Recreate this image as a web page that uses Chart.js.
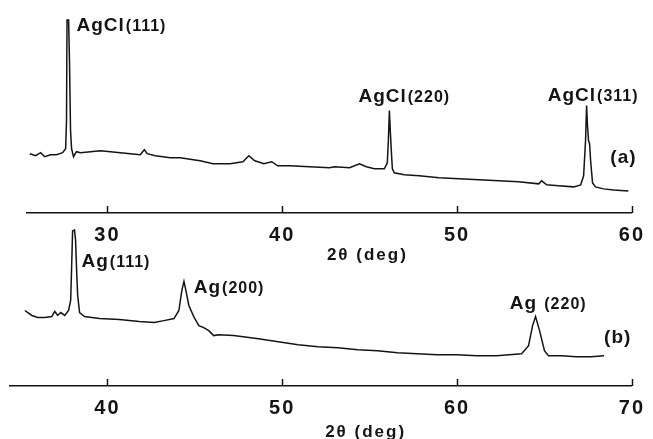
<!DOCTYPE html>
<html lang="en">
<head>
<meta charset="UTF-8">
<title>XRD patterns: AgCl and Ag</title>
<script src="https://cdn.jsdelivr.net/npm/chart.js"></script>
<style>
    html, body { margin: 0; padding: 0; background: #fff; }
    .wrap { position: relative; width: 653px; height: 439px; overflow: hidden; }
    .panel { position: absolute; left: 0; width: 653px; }
    #panelA { top: 0; height: 270px; }
    #panelB { top: 219px; height: 220px; }
</style>
</head>
<body>
<div class="wrap">
    <div class="panel" id="panelA"><canvas id="chartA"></canvas></div>
    <div class="panel" id="panelB"><canvas id="chartB"></canvas></div>
</div>
<script>
// (a) AgCl film: 2theta (deg) and intensity (arb. units, 0-100)
const twoThetaA = [25.56, 25.90, 26.18, 26.41, 26.75, 27.09, 27.44, 27.61, 27.66, 27.69, 27.78, 27.83, 27.89, 27.95,
    28.06, 28.23, 28.46, 29.03, 29.60, 30.17, 30.74, 31.31, 31.88, 32.11, 32.28, 32.74, 33.59, 34.16, 35.30,
    36.04, 37.01, 37.75, 38.09, 38.43, 38.95, 39.40, 39.74, 40.43, 41.57, 42.71, 42.99, 43.85, 44.42, 44.81,
    45.27, 45.84, 46.01, 46.07, 46.13, 46.18, 46.24, 46.30, 46.41, 46.98, 47.83, 48.97, 50.11, 51.25, 52.39,
    53.53, 54.67, 54.84, 55.13, 55.81, 56.67, 57.07, 57.24, 57.35, 57.41, 57.46, 57.52, 57.58, 57.64, 57.75,
    57.92, 58.38, 58.95, 59.80];
const intensityA = [29.5, 28.5, 30, 28, 29, 29, 30, 32, 46, 96, 96, 76, 41, 32,
    28, 30.5, 30, 30.5, 31, 30.5, 30, 29.5, 29, 31.5, 29.5, 28.5, 27.5, 27.5, 26,
    24.5, 24.5, 25.5, 28.5, 26, 24.5, 25.5, 23.5, 23.5, 23, 22.5, 23, 22.5, 24.5, 23,
    22, 22, 25, 36, 51, 41, 31, 22, 20, 19, 18.5, 17.5, 17, 16.5, 16,
    15.5, 14.5, 16, 14, 13.5, 13, 14, 18.5, 36, 53.5, 43.5, 36, 34.5, 26, 15,
    13, 12, 11.5, 11];

// (b) Ag film
const twoThetaB = [35.28, 35.45, 35.68, 36.02, 36.42, 36.82, 36.99, 37.16, 37.33, 37.56, 37.78, 37.90, 37.95, 38.01,
    38.12, 38.18, 38.24, 38.30, 38.41, 38.69, 39.55, 40.68, 41.82, 42.67, 43.24, 43.81, 44.09, 44.26, 44.38,
    44.49, 44.66, 44.94, 45.23, 45.51, 45.80, 46.08, 46.36, 47.22, 48.64, 49.77, 50.91, 52.05, 53.18, 54.32,
    55.45, 56.59, 57.73, 58.86, 60.00, 61.14, 62.27, 63.69, 64.09, 64.32, 64.49, 64.72, 65.00, 65.23, 65.97,
    66.82, 67.67, 68.41];
const intensityB = [46.9, 45.6, 43.8, 42.5, 42.5, 43.1, 46.3, 43.8, 45.6, 43.8, 46.9, 53.1, 71.9, 96.3,
    96.9, 90.6, 71.9, 56.3, 45.6, 43.1, 41.9, 41.3, 40, 39.4, 40.6, 41.9, 46.9, 59.4, 65,
    59.4, 50, 43.1, 37.5, 36.3, 34.4, 31.3, 31.9, 31.3, 29.4, 27.5, 25.6, 24.4, 23.8, 22.5,
    21.9, 20.6, 20, 19.4, 19.4, 18.8, 18.8, 20, 25, 37.5, 43.1, 34.4, 21.9, 18.8, 18.8,
    18.1, 18.1, 18.8];

// axis ticks
const ticksA = [30, 40, 50, 60];
const ticksB = [40, 50, 60, 70];

// peak labels: [main, index, 2theta, intensity] (left edge / middle of text)
const labelsA = [
    ['AgCl', '(111)', 28.23, 94],
    ['AgCl', '(220)', 44.36, 58.5],
    ['AgCl', '(311)', 55.19, 59],
    ['(a)', '', 58.77, 28.5]
];
const labelsB = [
    ['Ag', '(111)', 38.52, 78.1],
    ['Ag', '(200)', 44.94, 61.9],
    ['Ag ', '(220)', 63.01, 51.9],
    ['(b)', '', 68.41, 31.3]
];

const INK = '#141414';
const FONT = '"Liberation Sans", Arial, sans-serif';

const decor = {
    id: 'decor',
    beforeDraw(chart) {
        // wide-set lettering of the original figure
        chart.ctx.letterSpacing = '2px';
    },
    afterDraw(chart, args, opts) {
        const ctx = chart.ctx;
        const xs = chart.scales.x, ys = chart.scales.y;
        const bottom = chart.chartArea.bottom;
        ctx.save();
        // tick marks pointing up into the plot
        ctx.strokeStyle = INK;
        ctx.lineWidth = 1.5;
        opts.ticks.forEach(v => {
            const px = Math.round(xs.getPixelForValue(v)) + 0.5;
            ctx.beginPath();
            ctx.moveTo(px, bottom);
            ctx.lineTo(px, bottom - 7);
            ctx.stroke();
        });
        ctx.fillStyle = INK;
        ctx.textBaseline = 'alphabetic';
        ctx.textAlign = 'left';
        // peak labels
        opts.labels.forEach(l => {
            const px = xs.getPixelForValue(l[2]);
            const py = ys.getPixelForValue(l[3]) + 7;
            ctx.letterSpacing = '1px';
            ctx.font = 'bold 19px ' + FONT;
            ctx.fillText(l[0], px, py);
            if (l[1]) {
                const w = ctx.measureText(l[0]).width;
                ctx.font = 'bold 16px ' + FONT;
                ctx.fillText(l[1], px + w + 1, py);
            }
        });
        // axis title
        ctx.letterSpacing = '2px';
        ctx.textAlign = 'center';
        ctx.textBaseline = 'middle';
        ctx.font = 'bold 17px ' + FONT;
        ctx.fillText('2θ (deg)', xs.getPixelForValue(opts.titleAt), bottom + opts.titleGap);
        ctx.restore();
        ctx.letterSpacing = '0px';
    }
};

function makeChart(id, xv, yv, tickVals, labels, xmin, xmax, padding, titleAt, titleGap) {
    return new Chart(document.getElementById(id), {
        type: 'line',
        data: {
            datasets: [{
                data: xv.map((x, i) => ({ x: x, y: yv[i] })),
                borderColor: INK,
                borderWidth: 1.5,
                pointRadius: 0,
                tension: 0,
                fill: false
            }]
        },
        options: {
            responsive: true,
            maintainAspectRatio: false,
            animation: false,
            events: [],
            layout: { padding: padding },
            plugins: {
                legend: { display: false },
                tooltip: { enabled: false },
                decor: { ticks: tickVals, labels: labels, titleAt: titleAt, titleGap: titleGap }
            },
            scales: {
                x: {
                    type: 'linear',
                    min: xmin,
                    max: xmax,
                    afterBuildTicks: s => { s.ticks = tickVals.map(v => ({ value: v })); },
                    grid: { display: true, drawOnChartArea: false, drawTicks: false },
                    border: { display: true, color: INK, width: 1.5 },
                    ticks: {
                        padding: 10,
                        color: INK,
                        maxRotation: 0,
                        font: { family: FONT, size: 20, weight: 'bold' }
                    }
                },
                y: {
                    display: false,
                    min: 0,
                    max: 100
                }
            }
        },
        plugins: [decor]
    });
}

makeChart('chartA', twoThetaA, intensityA, ticksA, labelsA, 25.4, 60,
    { left: 27, right: 20, top: 12, bottom: 13 }, 44.87, 42);
makeChart('chartB', twoThetaB, intensityB, ticksB, labelsB, 34.43, 70,
    { left: 10, right: 16, top: 6, bottom: 9 }, 54.77, 46);
</script>
</body>
</html>
